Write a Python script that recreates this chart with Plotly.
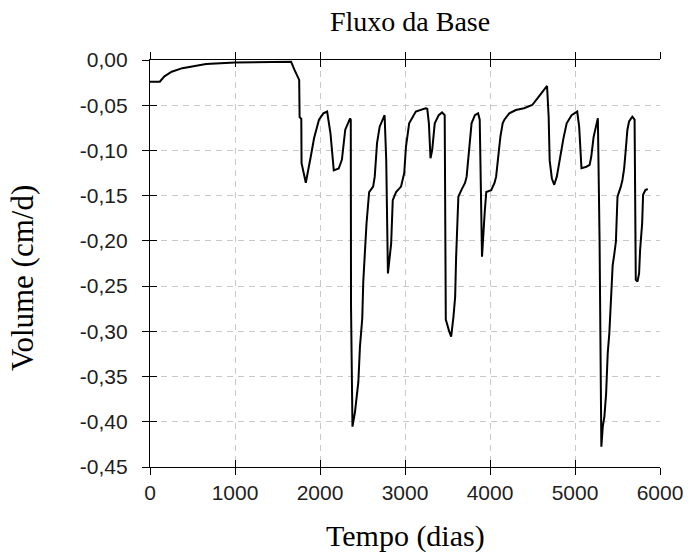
import plotly.graph_objects as go

# ---- data ----
tempo = [0, 115, 170, 255, 380, 500, 660, 1000, 1400, 1660, 1700, 1755, 1760, 1780, 1783, 1833,
         1891, 1930, 1988, 2040, 2084, 2123, 2162, 2220, 2258, 2297, 2354, 2362, 2365, 2382,
         2412, 2451, 2470, 2497, 2509, 2528, 2547, 2578, 2625, 2644, 2671, 2702, 2760, 2779,
         2799, 2837, 2856, 2895, 2953, 2991, 3011, 3049, 3127, 3242, 3262, 3281, 3300, 3320,
         3350, 3397, 3436, 3467, 3474, 3480, 3520, 3543, 3570, 3590, 3601, 3609, 3628, 3667,
         3706, 3725, 3744, 3764, 3783, 3822, 3860, 3879, 3891, 3906, 3937, 3956, 4014, 4053,
         4072, 4092, 4122, 4149, 4169, 4227, 4304, 4400, 4497, 4574, 4671, 4690, 4702, 4728,
         4756, 4786, 4825, 4864, 4902, 4960, 5026, 5049, 5076, 5134, 5172, 5191, 5219, 5250,
         5269, 5289, 5310, 5327, 5346, 5366, 5385, 5404, 5423, 5443, 5462, 5481, 5500, 5520,
         5539, 5558, 5578, 5597, 5616, 5636, 5674, 5701, 5715, 5735, 5754, 5766, 5790, 5801,
         5828, 5856]
volume = [-0.024, -0.024, -0.018, -0.013, -0.009, -0.007, -0.0045, -0.0028, -0.002, -0.002,
          -0.011, -0.022, -0.063, -0.065, -0.114, -0.1357,
          -0.107, -0.0866, -0.066, -0.059, -0.057, -0.081, -0.122, -0.120, -0.110, -0.077,
          -0.0645, -0.066, -0.273, -0.4054,
          -0.389, -0.356, -0.317, -0.286, -0.245, -0.214, -0.181, -0.146, -0.140, -0.129,
          -0.092, -0.0737, -0.061, -0.110,
          -0.236, -0.203, -0.155, -0.146, -0.140, -0.125, -0.096, -0.070, -0.057, -0.0534,
          -0.054, -0.070, -0.1087, -0.0995,
          -0.070, -0.061, -0.058, -0.061, -0.199, -0.287, -0.300, -0.306, -0.284, -0.262,
          -0.219, -0.192, -0.151, -0.143,
          -0.136, -0.129, -0.107, -0.088, -0.070, -0.061, -0.059, -0.066, -0.140, -0.2175,
          -0.1695, -0.146, -0.144, -0.136,
          -0.129, -0.111, -0.085, -0.070, -0.066, -0.059, -0.0553, -0.0534, -0.0498, -0.0406,
          -0.0287, -0.0627, -0.111, -0.131,
          -0.138, -0.129, -0.107, -0.0866, -0.070, -0.061, -0.057, -0.0737, -0.1197, -0.118,
          -0.116, -0.107, -0.085, -0.070,
          -0.0645, -0.199, -0.4276, -0.405, -0.394, -0.369, -0.324, -0.302, -0.258, -0.227,
          -0.215, -0.201, -0.151, -0.1456,
          -0.140, -0.1327, -0.120, -0.0995, -0.0774, -0.068, -0.0627, -0.066, -0.243, -0.245,
          -0.236, -0.210, -0.1806, -0.149,
          -0.1437, -0.1426]

x_ticks = [0, 1000, 2000, 3000, 4000, 5000, 6000]
y_ticks = [0.00, -0.05, -0.10, -0.15, -0.20, -0.25, -0.30, -0.35, -0.40, -0.45]
y_ticktext = [f"{v:.2f}".replace(".", ",") for v in y_ticks]

title_text = "Fluxo da Base"
x_title = "Tempo (dias)"
y_title = "Volume (cm/d)"

SERIF = "Liberation Serif, Times New Roman, serif"
SANS = "Liberation Sans, Arial, sans-serif"
GRID = "#c8c8c8"

fig = go.Figure()
fig.add_trace(go.Scatter(x=tempo, y=volume, mode="lines",
                         line=dict(color="black", width=2), showlegend=False,
                         hoverinfo="skip"))
# invisible copy on overlay axes (used only to draw inward tick marks)
fig.add_trace(go.Scatter(x=tempo, y=volume, mode="lines", xaxis="x2", yaxis="y2",
                         line=dict(color="rgba(0,0,0,0)", width=0), showlegend=False,
                         hoverinfo="skip"))

common_x = dict(range=[0, 6000], tickvals=x_ticks, zeroline=False,
                linecolor="black", linewidth=1.3, tickcolor="black", tickwidth=1.3,
                ticklen=7)
common_y = dict(range=[-0.45, 0], tickvals=y_ticks, zeroline=False,
                linecolor="black", linewidth=1.3, tickcolor="black", tickwidth=1.3,
                ticklen=7)

fig.update_layout(
    width=695, height=552,
    margin=dict(l=150, r=27, t=60, b=85),
    paper_bgcolor="white", plot_bgcolor="white",
    title=dict(text=title_text, x=0.59, xanchor="center", y=1 - 21 / 552,
               yanchor="middle", xref="container", yref="container",
               font=dict(family=SERIF, size=28, color="black")),
    xaxis=dict(**common_x, ticks="outside", showline=True, mirror="ticks",
               showgrid=True, gridcolor=GRID, gridwidth=1, griddash="6px,5px",
               ticktext=[str(v) for v in x_ticks],
               tickfont=dict(family=SANS, size=21, color="#1e1e1e")),
    yaxis=dict(**common_y, ticks="outside", showline=True, mirror=False,
               showgrid=True, gridcolor=GRID, gridwidth=1, griddash="6px,5px",
               ticktext=y_ticktext, ticklabelstandoff=10,
               tickfont=dict(family=SANS, size=21, color="#1e1e1e")),
    xaxis2=dict(**common_x, overlaying="x", anchor="y2", side="bottom",
                ticks="inside", showline=True, mirror="ticks", showgrid=False,
                showticklabels=False),
    yaxis2=dict(**common_y, overlaying="y", anchor="x2", side="left",
                ticks="inside", showline=True, mirror=False, showgrid=False,
                showticklabels=False),
    annotations=[
        dict(text=x_title, xref="paper", yref="paper", x=0.5, y=(467 - 536) / 407,
             xanchor="center", yanchor="middle", showarrow=False,
             font=dict(family=SERIF, size=30, color="black")),
        dict(text=y_title, xref="paper", yref="paper", x=(20 - 150) / 518,
             y=(467 - 278) / 407, xanchor="center", yanchor="middle",
             textangle=-90, showarrow=False,
             font=dict(family=SERIF, size=31, color="black")),
    ],
)

fig.write_html("out.html")
